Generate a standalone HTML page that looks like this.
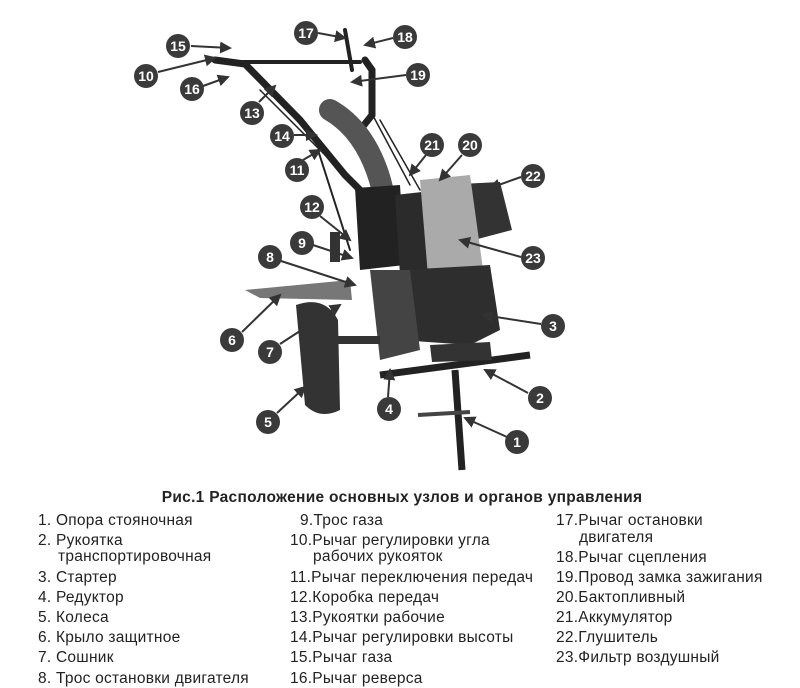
<!DOCTYPE html>
<html><head><meta charset="utf-8"><style>
body{margin:0;background:#fff;width:800px;height:688px;overflow:hidden;font-family:"Liberation Sans",sans-serif}
svg{position:absolute;left:0;top:0}
</style></head><body>
<svg width="800" height="688" viewBox="0 0 800 688" font-family="Liberation Sans, sans-serif">
<g stroke="#222" fill="none" stroke-linecap="round">
<path d="M215 60 L245 64 L300 120 L345 175 L370 200" stroke-width="7"/>
<path d="M240 62 L360 62" stroke-width="4"/>
<path d="M365 60 L372 70 L372 115 L360 130" stroke-width="7"/>
<path d="M330 110 Q365 130 380 180 L390 220" stroke="#555" stroke-width="22"/>
<path d="M255 75 L335 160 M260 90 L350 180 M380 120 L420 190 M370 110 L410 185" stroke-width="1.5"/>
<path d="M345 30 L352 70" stroke-width="4"/>
<path d="M318 150 L350 250" stroke-width="2"/>
</g>
<path d="M355 188 L400 185 L405 265 L360 270 Z" fill="#222"/>
<path d="M395 195 L440 190 L445 270 L400 275 Z" fill="#2b2b2b"/>
<path d="M440 185 L500 182 L512 230 L455 245 Z" fill="#333"/>
<path d="M420 180 L470 175 L490 320 L430 300 Z" fill="#aaa"/>
<path d="M400 270 L490 265 L500 330 L470 345 L400 340 Z" fill="#2e2e2e"/>
<path d="M370 270 L410 270 L420 350 L380 360 Z" fill="#444"/>
<path d="M245 290 L350 280 L352 300 L260 298 Z" fill="#777"/>
<path d="M296 305 Q325 295 338 320 L340 410 Q320 420 305 405 Z" fill="#333"/>
<path d="M380 375 L530 355" stroke="#222" stroke-width="7"/>
<path d="M455 370 L462 470" stroke="#222" stroke-width="7"/>
<path d="M418 415 L470 412" stroke="#444" stroke-width="4"/>
<path d="M430 345 L490 342 L492 360 L432 362 Z" fill="#333"/>
<path d="M338 340 L380 340" stroke="#333" stroke-width="8"/>
<path d="M330 232 L340 232 L340 262 L330 262Z" fill="#333"/>
<g stroke="#333" stroke-width="2" marker-end="url(#a)">
<line x1="318" y1="33" x2="345" y2="38"/><line x1="393" y1="38" x2="365" y2="45"/>
<line x1="191" y1="46" x2="230" y2="48"/><line x1="158" y1="72" x2="215" y2="58"/>
<line x1="203" y1="86" x2="228" y2="77"/><line x1="406" y1="75" x2="352" y2="82"/>
<line x1="259" y1="102" x2="275" y2="86"/><line x1="294" y1="135" x2="316" y2="135"/>
<line x1="303" y1="160" x2="320" y2="150"/><line x1="426" y1="155" x2="410" y2="175"/>
<line x1="462" y1="155" x2="440" y2="180"/><line x1="521" y1="177" x2="490" y2="188"/>
<line x1="320" y1="216" x2="350" y2="240"/><line x1="313" y1="245" x2="352" y2="258"/>
<line x1="281" y1="261" x2="355" y2="285"/><line x1="521" y1="257" x2="460" y2="240"/>
<line x1="541" y1="324" x2="483" y2="315"/><line x1="242" y1="332" x2="280" y2="295"/>
<line x1="280" y1="344" x2="340" y2="305"/><line x1="528" y1="393" x2="485" y2="370"/>
<line x1="388" y1="397" x2="390" y2="370"/><line x1="277" y1="413" x2="305" y2="387"/>
<line x1="507" y1="437" x2="465" y2="418"/>
</g>
<defs><marker id="a" markerWidth="6" markerHeight="6" refX="5" refY="3" orient="auto"><path d="M0 0L6 3L0 6Z" fill="#333"/></marker></defs>
<g font-weight="bold" font-size="14" fill="#fff" text-anchor="middle">
<g fill="#3a3a3a"><circle cx="306" cy="33" r="12"/><circle cx="405" cy="37" r="12"/><circle cx="178" cy="46" r="12"/><circle cx="146" cy="76" r="12"/><circle cx="192" cy="89" r="12"/><circle cx="418" cy="75" r="12"/><circle cx="252" cy="113" r="12"/><circle cx="282" cy="136" r="12"/><circle cx="432" cy="145" r="12"/><circle cx="470" cy="145" r="12"/><circle cx="297" cy="170" r="12"/><circle cx="533" cy="176" r="12"/><circle cx="312" cy="207" r="12"/><circle cx="302" cy="243" r="12"/><circle cx="533" cy="258" r="12"/><circle cx="270" cy="257" r="12"/><circle cx="553" cy="326" r="12"/><circle cx="232" cy="340" r="12"/><circle cx="270" cy="352" r="12"/><circle cx="540" cy="398" r="12"/><circle cx="389" cy="409" r="12"/><circle cx="268" cy="422" r="12"/><circle cx="517" cy="442" r="12"/></g>
<text x="306" y="38">17</text><text x="405" y="42">18</text><text x="178" y="51">15</text><text x="146" y="81">10</text><text x="192" y="94">16</text><text x="418" y="80">19</text><text x="252" y="118">13</text><text x="282" y="141">14</text><text x="432" y="150">21</text><text x="470" y="150">20</text><text x="297" y="175">11</text><text x="533" y="181">22</text><text x="312" y="212">12</text><text x="302" y="248">9</text><text x="533" y="263">23</text><text x="270" y="262">8</text><text x="553" y="331">3</text><text x="232" y="345">6</text><text x="270" y="357">7</text><text x="540" y="403">2</text><text x="389" y="414">4</text><text x="268" y="427">5</text><text x="517" y="447">1</text>
</g>
<text x="402" y="502" font-size="15.5" font-weight="bold" letter-spacing="0.3" text-anchor="middle" fill="#222">Рис.1 Расположение основных узлов и органов управления</text>
<g font-size="15.5" letter-spacing="0.25" fill="#222">
<text x="38" y="525">1.  Опора стояночная</text>
<text x="38" y="545">2.  Рукоятка</text><text x="58" y="561">транспортировочная</text>
<text x="38" y="582">3.  Стартер</text>
<text x="38" y="602">4.  Редуктор</text>
<text x="38" y="622">5.  Колеса</text>
<text x="38" y="642">6.  Крыло защитное</text>
<text x="38" y="662">7.  Сошник</text>
<text x="38" y="683">8.  Трос остановки двигателя</text>
<text x="300" y="525">9.Трос газа</text>
<text x="290" y="545">10.Рычаг регулировки угла</text><text x="313" y="561">рабочих рукояток</text>
<text x="290" y="582">11.Рычаг переключения передач</text>
<text x="290" y="602">12.Коробка передач</text>
<text x="290" y="622">13.Рукоятки рабочие</text>
<text x="290" y="642">14.Рычаг регулировки высоты</text>
<text x="290" y="662">15.Рычаг газа</text>
<text x="290" y="683">16.Рычаг реверса</text>
<text x="556" y="525">17.Рычаг остановки</text><text x="579" y="542">двигателя</text>
<text x="556" y="562">18.Рычаг сцепления</text>
<text x="556" y="582">19.Провод замка зажигания</text>
<text x="556" y="602">20.Бактопливный</text>
<text x="556" y="622">21.Аккумулятор</text>
<text x="556" y="642">22.Глушитель</text>
<text x="556" y="662">23.Фильтр воздушный</text>
</g>
</svg>
</body></html>
